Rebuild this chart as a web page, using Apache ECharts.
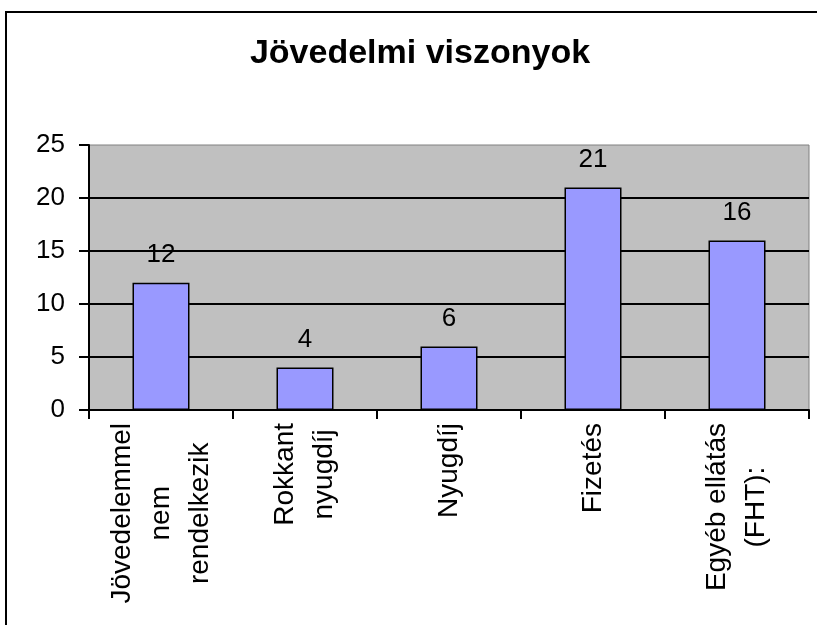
<!DOCTYPE html>
<html>
<head>
<meta charset="utf-8">
<script src="https://cdn.jsdelivr.net/npm/echarts@6/dist/echarts.min.js"></script>
<style>
  html, body { margin: 0; padding: 0; background: #fff; }
  #chart { width: 817px; height: 625px; }
</style>
</head>
<body>
<div id="chart"></div>
<script>
// kategóriák (sortörésekkel, mint az eredetin)
var categories = ['Jövedelemmel\nnem\nrendelkezik', 'Rokkant\nnyugdíj', 'Nyugdíj', 'Fizetés', 'Egyéb ellátás\n(FHT):'];
var values = [12, 4, 6, 21, 16];
var yTicks = [0, 5, 10, 15, 20, 25];

var font = "'Liberation Sans', Arial, sans-serif";
var chart = echarts.init(document.getElementById('chart'));

var option = {
  backgroundColor: '#fff',
  animation: false,
  graphic: [{
    // külső keret
    type: 'rect',
    shape: { x: 6, y: 12, width: 900, height: 700 },
    style: { fill: 'none', stroke: '#000', lineWidth: 2 },
    z: -1
  }],
  title: {
    text: 'Jövedelmi viszonyok',
    left: 420,
    top: 37,
    padding: 0,
    textAlign: 'center',
    textStyle: { fontFamily: font, fontSize: 34, fontWeight: 'bold', color: '#000' }
  },
  grid: {
    left: 89, right: 8, top: 145, bottom: 215,
    show: true,
    backgroundColor: '#C0C0C0',
    borderColor: '#808080',
    borderWidth: 1
  },
  xAxis: {
    type: 'category',
    data: categories,
    axisLine: { lineStyle: { color: '#000', width: 2 } },
    axisTick: { show: true, length: 9, lineStyle: { color: '#000', width: 2 } },
    axisLabel: {
      rotate: 90,
      margin: 13,
      fontFamily: font,
      fontSize: 28,
      color: '#000',
      lineHeight: 39,
      formatter: function (v) {
        return v.split('\n').map(function (s) { return '{c|' + s + '}'; }).join('\n');
      },
      rich: { c: { align: 'center', fontFamily: font, fontSize: 28, lineHeight: 39, color: '#000' } }
    }
  },
  yAxis: {
    type: 'value',
    min: yTicks[0],
    max: yTicks[yTicks.length - 1],
    interval: 5,
    axisLine: { show: true, lineStyle: { color: '#000', width: 2 } },
    axisTick: { show: true, length: 10, lineStyle: { color: '#000', width: 2 } },
    axisLabel: { margin: 24, fontFamily: font, fontSize: 26, color: '#000' },
    splitLine: { show: true, showMinLine: false, showMaxLine: false, lineStyle: { color: '#000', width: 2 } }
  },
  series: [{
    type: 'bar',
    data: values,
    barWidth: 57,
    itemStyle: { color: '#9999FF', borderColor: '#000', borderWidth: 1.5 },
    label: {
      show: true,
      position: 'top',
      distance: 15,
      fontFamily: font,
      fontSize: 26,
      color: '#000'
    }
  }]
};
chart.setOption(option);
</script>
</body>
</html>
